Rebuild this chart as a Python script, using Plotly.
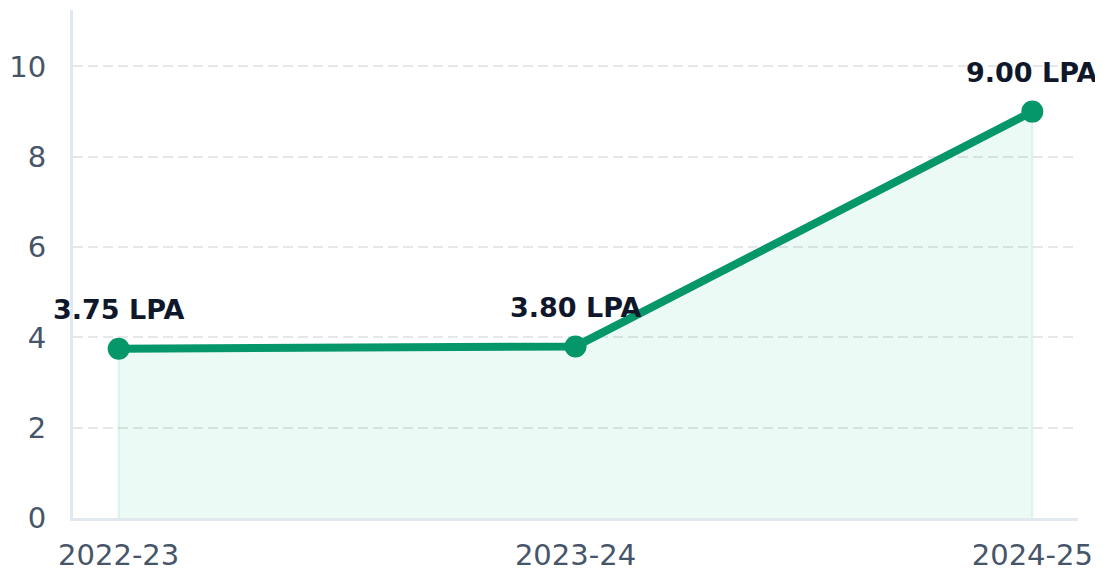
import plotly.graph_objects as go

years = ["2022-23", "2023-24", "2024-25"]
packages = [3.75, 3.80, 9.00]
labels = ["3.75 LPA", "3.80 LPA", "9.00 LPA"]
y_ticks = [0, 2, 4, 6, 8, 10]

LINE = "#059669"

fig = go.Figure()

# filled area under the line
fig.add_trace(go.Scatter(
    x=[years[0]] + years + [years[-1]],
    y=[0] + packages + [0],
    mode="lines",
    fill="toself",
    fillcolor="rgba(16,185,129,0.08)",
    line=dict(color="rgba(16,185,129,0.12)", width=2),
    hoverinfo="skip",
    showlegend=False,
))

fig.add_trace(go.Scatter(
    x=years,
    y=packages,
    mode="lines+markers",
    line=dict(color=LINE, width=8),
    marker=dict(color=LINE, size=22),
    showlegend=False,
    cliponaxis=False,
))

for yr, v, t in zip(years, packages, labels):
    fig.add_annotation(
        x=yr, y=v, text=f"<b>{t}</b>", showarrow=False, yshift=39,
        font=dict(family="DejaVu Sans", size=27, color="#0f172a"),
    )

# page body has an 8px default margin; compensate so the figure fills the window
fig.update_layout(
    width=1095, height=563,
    margin=dict(l=65, r=25, t=2, b=53, autoexpand=False),
    plot_bgcolor="white", paper_bgcolor="white",
    font=dict(family="DejaVu Sans", size=29, color="#475569"),
)
fig.update_xaxes(
    type="category", range=[-0.1, 2.1], automargin=False,
    showgrid=False, showline=True, linecolor="#e2e8f0", linewidth=3,
    ticks="outside", ticklen=0, tickcolor="rgba(0,0,0,0)", ticklabelstandoff=9,
    tickfont=dict(size=29, color="#475569"),
)
fig.update_yaxes(
    range=[0, 11.25], tickvals=y_ticks, automargin=False,
    showgrid=True, gridcolor="#e5e7eb", griddash="10px,5px", gridwidth=2,
    zeroline=False, showline=True, linecolor="#e2e8f0", linewidth=3,
    ticks="outside", ticklen=0, tickcolor="rgba(0,0,0,0)", ticklabelstandoff=18,
    tickfont=dict(size=29, color="#475569"),
)

fig.write_html("out.html")
